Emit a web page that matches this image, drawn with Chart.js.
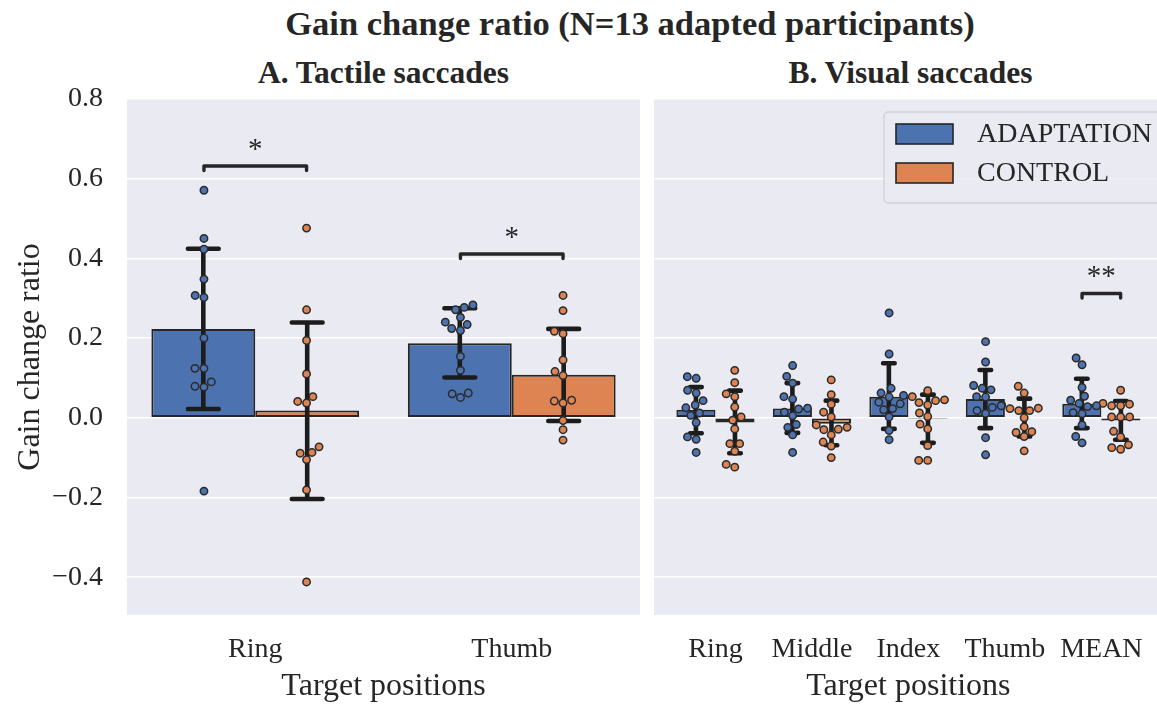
<!DOCTYPE html>
<html><head><meta charset="utf-8">
<script src="https://cdn.jsdelivr.net/npm/chart.js@4"></script>
<style>
html,body{margin:0;padding:0;width:1157px;height:706px;overflow:hidden;background:#fff;position:relative}
.t{position:absolute;font-family:"Liberation Serif",serif;font-weight:bold;color:#262626;white-space:nowrap;transform:translateX(-50%);line-height:1}
#main{left:630px;top:6px;font-size:34.5px}
#ta{left:383.5px;top:57px;font-size:31.5px}
#tb{left:910.5px;top:57px;font-size:31.5px}
#wa{position:absolute;left:0;top:0;width:650px;height:706px}
#wb{position:absolute;left:644px;top:0;width:524px;height:706px}
</style></head>
<body>
<div class="t" id="main">Gain change ratio (N=13 adapted participants)</div>
<div class="t" id="ta">A. Tactile saccades</div>
<div class="t" id="tb">B. Visual saccades</div>
<div id="wa"><canvas id="ca" width="650" height="706"></canvas></div>
<div id="wb"><canvas id="cb" width="524" height="706"></canvas></div>
<script>
// ---------- data ----------
const seriesNames = ['ADAPTATION', 'CONTROL'];
const seriesColors = ['#4c72b0', '#dd8452'];
const yTicks = [-0.4, -0.2, 0.0, 0.2, 0.4, 0.6, 0.8];
const xTitle = 'Target positions';
const yTitle = 'Gain change ratio';

const tactileCategories = ['Ring', 'Thumb'];
const tactileAdaptMean = [0.223, 0.187];
const tactileAdaptLow = [0.022, 0.101];
const tactileAdaptHigh = [0.424, 0.275];
const tactileControlMean = [0.018, 0.108];
const tactileControlLow = [-0.204, -0.008];
const tactileControlHigh = [0.239, 0.223];
const tactileAdaptPoints = [
  [0.571, 0.450, 0.423, 0.348, 0.307, 0.302, 0.200, 0.124, 0.124, 0.090, 0.079, 0.077, -0.184],
  [0.283, 0.277, 0.271, 0.252, 0.240, 0.224, 0.234, 0.219, 0.154, 0.119, 0.060, 0.051, 0.062]
];
const tactileControlPoints = [
  [0.476, 0.271, 0.194, 0.110, 0.041, 0.053, 0.037, -0.073, -0.089, -0.087, -0.105, -0.181, -0.412],
  [0.307, 0.269, 0.217, 0.211, 0.145, 0.116, 0.106, 0.042, 0.037, 0.044, -0.007, -0.030, -0.056]
];
const tactileSignificance = [[0, 0.632, '*'], [1, 0.411, '*']];

const visualCategories = ['Ring', 'Middle', 'Index', 'Thumb', 'MEAN'];
const visualAdaptMean = [0.020, 0.023, 0.053, 0.047, 0.035];
const visualAdaptLow = [-0.039, -0.038, -0.028, -0.026, -0.026];
const visualAdaptHigh = [0.077, 0.087, 0.137, 0.120, 0.098];
const visualControlMean = [-0.012, -0.015, -0.003, -0.002, -0.007];
const visualControlLow = [-0.089, -0.069, -0.063, -0.047, -0.055];
const visualControlHigh = [0.068, 0.043, 0.058, 0.048, 0.042];
const visualAdaptPoints = [
  [0.103, 0.099, 0.069, 0.062, 0.043, 0.032, 0.025, 0.012, 0.006, -0.012, -0.048, -0.054, -0.087],
  [0.131, 0.104, 0.087, 0.053, 0.047, 0.022, 0.024, 0.014, 0.005, -0.017, -0.024, -0.043, -0.087],
  [0.263, 0.160, 0.074, 0.062, 0.056, 0.052, 0.039, 0.035, 0.020, 0.023, 0.002, -0.032, -0.055],
  [0.191, 0.140, 0.081, 0.074, 0.070, 0.053, 0.052, 0.030, 0.026, 0.018, 0.011, -0.050, -0.093],
  [0.150, 0.133, 0.076, 0.054, 0.044, 0.036, 0.028, 0.030, 0.013, 0.010, -0.018, -0.047, -0.063]
];
const visualControlPoints = [
  [0.119, 0.088, 0.060, 0.053, 0.027, 0.002, -0.006, -0.028, -0.065, -0.065, -0.084, -0.117, -0.124],
  [0.095, 0.058, 0.034, 0.014, 0.002, -0.018, -0.030, -0.029, -0.024, -0.043, -0.061, -0.071, -0.100],
  [0.068, 0.053, 0.043, 0.045, 0.038, 0.032, 0.012, 0.003, -0.016, -0.028, -0.070, -0.107, -0.107],
  [0.079, 0.062, 0.024, 0.018, 0.018, 0.023, 0.032, 0.000, -0.023, -0.037, -0.035, -0.047, -0.083],
  [0.069, 0.036, 0.030, 0.030, 0.034, 0.002, 0.002, 0.002, -0.034, -0.048, -0.068, -0.075, -0.079]
];
const visualSignificance = [[4, 0.312, '**']];

// ---------- styling / helpers ----------
const FONT = '"Liberation Serif", "Times New Roman", serif';
const INK = '#262626';
const BG = '#eaeaf2';
Chart.defaults.font.family = FONT;
Chart.defaults.color = INK;
Chart.defaults.animation = false;
const DODGE = 0.2;
const fmt = v => (Math.round(v * 10) / 10).toFixed(1).replace('-', '\u2212');

const bgPlugin = {
  id: 'bg',
  beforeDraw(chart) {
    const a = chart.chartArea, c = chart.ctx;
    c.save(); c.fillStyle = BG; c.fillRect(a.left, a.top, a.right - a.left, a.bottom - a.top); c.restore();
  }
};

const errPlugin = {
  id: 'err',
  afterDatasetDraw(chart, args) {
    const ds = chart.data.datasets[args.index];
    if (!ds.errLow) return;
    const c = chart.ctx, y = chart.scales.y, x = chart.scales.x;
    const cat = x.getPixelForValue(1) - x.getPixelForValue(0);
    const half = cat * 0.12 / 2;
    c.save();
    c.strokeStyle = '#1c1c1c';
    c.lineWidth = 4.6;
    args.meta.data.forEach((bar, i) => {
      const lo = y.getPixelForValue(ds.errLow[i]), hi = y.getPixelForValue(ds.errHigh[i]);
      c.lineCap = 'butt';
      c.beginPath(); c.moveTo(bar.x, lo); c.lineTo(bar.x, hi); c.stroke();
      c.lineCap = 'round';
      c.beginPath(); c.moveTo(bar.x - half, lo); c.lineTo(bar.x + half, lo);
      c.moveTo(bar.x - half, hi); c.lineTo(bar.x + half, hi); c.stroke();
    });
    c.restore();
  }
};

const sigPlugin = {
  id: 'sig',
  afterDatasetsDraw(chart, args, opts) {
    const c = chart.ctx, y = chart.scales.y, x = chart.scales.x;
    c.save();
    (opts.items || []).forEach(([cat, level, label]) => {
      const x1 = x.getPixelForValue(cat - DODGE), x2 = x.getPixelForValue(cat + DODGE);
      const py = y.getPixelForValue(level);
      c.strokeStyle = INK; c.lineWidth = 3.4; c.lineJoin = 'round'; c.lineCap = 'round';
      c.beginPath(); c.moveTo(x1, py + 4.5); c.lineTo(x1, py); c.lineTo(x2, py); c.lineTo(x2, py + 4.5); c.stroke();
      c.fillStyle = INK; c.font = '29px ' + FONT; c.textAlign = 'center'; c.textBaseline = 'alphabetic';
      c.fillText(label, (x1 + x2) / 2, py - 8);
    });
    c.restore();
  }
};

const legendPlugin = {
  id: 'legbox',
  afterDraw(chart, args, opts) {
    if (!opts.show) return;
    const a = chart.chartArea, c = chart.ctx;
    const x0 = a.left + 230, y0 = a.top + 13, w = 290, h = 91, r = 4;
    c.save();
    c.beginPath();
    c.moveTo(x0 + r, y0); c.lineTo(x0 + w - r, y0); c.arcTo(x0 + w, y0, x0 + w, y0 + r, r);
    c.lineTo(x0 + w, y0 + h - r); c.arcTo(x0 + w, y0 + h, x0 + w - r, y0 + h, r);
    c.lineTo(x0 + r, y0 + h); c.arcTo(x0, y0 + h, x0, y0 + h - r, r);
    c.lineTo(x0, y0 + r); c.arcTo(x0, y0, x0 + r, y0, r); c.closePath();
    c.fillStyle = 'rgba(234,234,242,0.85)'; c.fill();
    c.strokeStyle = '#cfcfd6'; c.lineWidth = 1.3; c.stroke();
    const bars = chart.data.datasets.filter(d => d.type === 'bar');
    bars.forEach((d, i) => {
      const py = y0 + 12 + i * 39;
      c.fillStyle = d.backgroundColor; c.fillRect(x0 + 12, py, 57, 20);
      c.strokeStyle = INK; c.lineWidth = 1.6; c.strokeRect(x0 + 12, py, 57, 20);
      c.fillStyle = INK; c.font = '28px ' + FONT; c.textAlign = 'left'; c.textBaseline = 'middle';
      c.fillText(d.label, x0 + 93, py + 11);
    });
    c.restore();
  }
};

function swarmOffsets(values, yScale, d) {
  const idx = values.map((v, i) => i).sort((a, b) => values[a] - values[b]);
  const placed = [], out = new Array(values.length).fill(0);
  for (const i of idx) {
    const py = yScale.getPixelForValue(values[i]);
    const near = placed.filter(p => Math.abs(p.y - py) < d);
    const cands = [0];
    near.forEach(p => { const dx = Math.sqrt(d * d - (p.y - py) ** 2); cands.push(p.x - dx, p.x + dx); });
    cands.sort((a, b) => Math.abs(a) - Math.abs(b) || a - b);
    let chosen = 0;
    for (const cnd of cands) {
      if (near.every(p => (p.x - cnd) ** 2 + (p.y - py) ** 2 >= d * d - 1e-6)) { chosen = cnd; break; }
    }
    placed.push({ x: chosen, y: py }); out[i] = chosen;
  }
  return out;
}

function makePanel(canvasId, cats, aMean, aLo, aHi, cMean, cLo, cHi, aPts, cPts, sig, opts) {
  const datasets = [
    { type: 'bar', label: seriesNames[0], data: aMean.map((v, i) => ({ x: i, y: v })), backgroundColor: seriesColors[0],
      borderColor: INK, borderWidth: 2, borderSkipped: false, errLow: aLo, errHigh: aHi, order: 1,
      categoryPercentage: 0.81, barPercentage: 1.0 },
    { type: 'bar', label: seriesNames[1], data: cMean.map((v, i) => ({ x: i, y: v })), backgroundColor: seriesColors[1],
      borderColor: INK, borderWidth: 2, borderSkipped: false, errLow: cLo, errHigh: cHi, order: 1,
      categoryPercentage: 0.81, barPercentage: 1.0 }
  ];
  const pointSets = [];
  [[aPts, -DODGE, 0], [cPts, DODGE, 1]].forEach(([pts, dodge, s]) => {
    pts.forEach((vals, ci) => {
      const ds = { type: 'scatter', label: seriesNames[s] + ' ' + cats[ci], data: vals.map(v => ({ x: ci + dodge, y: v })),
        backgroundColor: seriesColors[s], borderColor: '#2a2a2a', borderWidth: 1.5, pointRadius: 3.7,
        pointHoverRadius: 3.7, order: 0, _vals: vals, _center: ci + dodge };
      datasets.push(ds); pointSets.push(ds);
    });
  });
  const chart = new Chart(document.getElementById(canvasId), {
    type: 'bar',
    data: { datasets },
    options: {
      responsive: false,
      layout: { padding: opts.padding },
      plugins: { legend: { display: false }, tooltip: { enabled: false }, sig: { items: sig }, legbox: { show: opts.legend } },
      scales: {
        x: {
          type: 'linear', min: opts.xmin, max: opts.xmax, offset: false,
          afterBuildTicks: s => { s.ticks = cats.map((c, i) => ({ value: i })); },
          afterFit: s => { s.height = 91; },
          ticks: { callback: (v) => cats[Math.round(v)], font: { size: 28 }, color: INK, padding: 18, maxRotation: 0, autoSkip: false },
          grid: { display: false, drawTicks: false },
          border: { display: false },
          title: { display: true, text: xTitle, font: { size: 32 }, color: INK, padding: { top: 0, bottom: 0 } }
        },
        y: {
          min: -0.495, max: 0.8,
          afterBuildTicks: s => { s.ticks = yTicks.map(v => ({ value: v })); },
          afterFit: s => { s.width = opts.yWidth; },
          ticks: { display: opts.yLabels, callback: v => fmt(v), font: { size: 28 }, color: INK, padding: 24 },
          grid: { color: '#ffffff', lineWidth: 1.6, drawTicks: false },
          border: { display: false },
          title: { display: opts.yLabels, text: yTitle, font: { size: 32 }, color: INK, padding: { top: 11, bottom: 0 } }
        }
      }
    },
    plugins: [bgPlugin, errPlugin, sigPlugin, legendPlugin]
  });
  const ys = chart.scales.y, xs = chart.scales.x;
  const catPx = xs.getPixelForValue(1) - xs.getPixelForValue(0);
  pointSets.forEach(ds => {
    const off = swarmOffsets(ds._vals, ys, 9);
    ds.data = ds._vals.map((v, i) => ({ x: ds._center + off[i] / catPx, y: v }));
  });
  chart.update('none');
  return chart;
}

makePanel('ca', tactileCategories, tactileAdaptMean, tactileAdaptLow, tactileAdaptHigh,
  tactileControlMean, tactileControlLow, tactileControlHigh, tactileAdaptPoints, tactileControlPoints, tactileSignificance,
  { padding: { left: 0, right: 10, top: 99, bottom: 0 }, xmin: -0.5, xmax: 1.5, yWidth: 127, yLabels: true, legend: false });
makePanel('cb', visualCategories, visualAdaptMean, visualAdaptLow, visualAdaptHigh,
  visualControlMean, visualControlLow, visualControlHigh, visualAdaptPoints, visualControlPoints, visualSignificance,
  { padding: { left: 10, right: 1, top: 99, bottom: 0 }, xmin: -0.637, xmax: 4.637, yWidth: 0, yLabels: false, legend: true });
</script>
</body></html>
